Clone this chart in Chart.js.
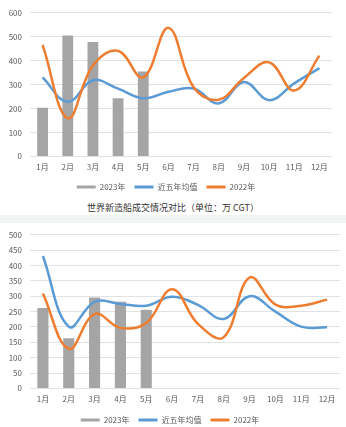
<!DOCTYPE html>
<html>
<head>
<meta charset="utf-8">
<script src="https://cdn.jsdelivr.net/npm/chart.js@4"></script>
<style>
  body { margin: 0; background: #fff; width: 346px; height: 427px; overflow: hidden; position: relative; }
  .box { position: absolute; left: 0; width: 346px; }
  #top { top: 0; height: 195px; }
  #bot { top: 222px; height: 207px; }
  #title { top: 201px; height: 14px; text-align: center; font: 9px "Noto Sans CJK SC", sans-serif; color: #333; line-height: 14px; }
  #band { top: 215px; height: 8px; background: #f2f3f3; }
</style>
</head>
<body>
<div class="box" id="top"><canvas id="chartTop"></canvas></div>
<div class="box" id="title">世界新造船成交情况对比（单位：万 CGT）</div>
<div class="box" id="band"></div>
<div class="box" id="bot"><canvas id="chartBot"></canvas></div>
<script>
const months = ['1月', '2月', '3月', '4月', '5月', '6月', '7月', '8月', '9月', '10月', '11月', '12月'];
const seriesNames = ['2023年', '近五年均值', '2022年'];

// 上图
const top2023 = [203, 505, 478, 243, 355];
const topAvg = [330, 228, 318, 283, 243, 270, 284, 221, 311, 235, 305, 369];
const top2022 = [466, 160, 380, 441, 330, 537, 289, 237, 328, 393, 275, 421];

// 下图：世界新造船成交情况对比
const bot2023 = [262, 163, 296, 282, 256];
const botAvg = [431, 201, 282, 275, 269, 298, 272, 226, 300, 250, 201, 199];
const bot2022 = [309, 129, 242, 197, 213, 323, 210, 167, 361, 273, 269, 289];

const font = { family: '"Noto Sans CJK SC", sans-serif', size: 8 };
const textColor = '#595959';
const colors = ['#a5a5a5', '#5b9bd5', '#ed7d31'];

// 压缩图例占用的高度，并把图例整体上移一点
function trimLegend(trim, shift) {
  return {
    id: 'trimLegend',
    beforeUpdate(chart) {
      const lg = chart.legend;
      if (lg && !lg._trimmed) {
        const fit = lg.fit;
        lg.fit = function () { fit.call(this); this.height -= trim; };
        lg._trimmed = true;
      }
    },
    afterLayout(chart) {
      const lg = chart.legend;
      if (lg) { lg.top -= shift; lg.bottom -= shift; }
    }
  };
}

function makeChart(id, bars, avg, y22, yMax, yStep, pad, trim, shift) {
  const ctx = document.getElementById(id).getContext('2d');
  return new Chart(ctx, {
    data: {
      labels: months,
      datasets: [
        { type: 'bar', label: seriesNames[0], data: bars, backgroundColor: colors[0], barPercentage: 0.43, categoryPercentage: 1, order: 3 },
        { type: 'line', label: seriesNames[1], data: avg, borderColor: colors[1], backgroundColor: colors[1], borderWidth: 2.5, tension: 0.4, pointRadius: 0, order: 2 },
        { type: 'line', label: seriesNames[2], data: y22, borderColor: colors[2], backgroundColor: colors[2], borderWidth: 2.5, tension: 0.4, pointRadius: 0, order: 1 }
      ]
    },
    options: {
      responsive: true,
      maintainAspectRatio: false,
      animation: false,
      layout: { padding: pad },
      plugins: {
        tooltip: { enabled: false },
        legend: {
          position: 'bottom',
          labels: {
            font: font, color: textColor, boxWidth: 19, boxHeight: 3, padding: 9,
            generateLabels: chart => Chart.defaults.plugins.legend.labels.generateLabels(chart)
              .sort((a, b) => a.datasetIndex - b.datasetIndex)
              .map(l => Object.assign(l, { fillStyle: colors[l.datasetIndex], strokeStyle: colors[l.datasetIndex], lineWidth: 0 }))
          }
        }
      },
      scales: {
        x: {
          grid: { display: false, drawTicks: false },
          border: { display: false },
          ticks: { font: font, color: textColor, maxRotation: 0, padding: 6 }
        },
        y: {
          min: 0, max: yMax,
          afterFit: s => { s.width = 30; },
          grid: { color: '#e2e2e2', drawTicks: false },
          border: { display: false },
          ticks: { stepSize: yStep, font: font, color: textColor, padding: 8 }
        }
      }
    },
    plugins: [trimLegend(trim, shift)]
  });
}

makeChart('chartTop', top2023, topAvg, top2022, 600, 100, { top: 7, right: 14, bottom: 0, left: 0 }, 10, 4);
makeChart('chartBot', bot2023, botAvg, bot2022, 500, 50, { top: 2, right: 6, bottom: 0, left: 0 }, 8, 3);
</script>
</body>
</html>
